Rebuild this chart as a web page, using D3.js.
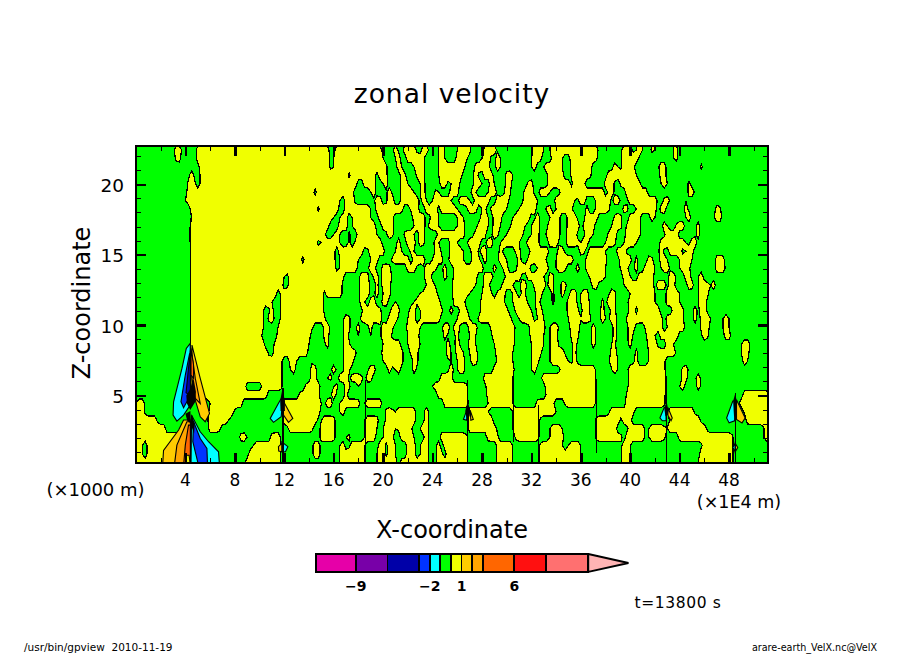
<!DOCTYPE html>
<html><head><meta charset="utf-8">
<script src="https://cdn.jsdelivr.net/npm/d3@7"></script>
<style>
html,body{margin:0;padding:0;background:#fff}
svg{display:block}
text{font-family:"DejaVu Sans",sans-serif;fill:#000}
</style></head><body>
<svg id="c" width="904" height="654"></svg>
<script>
const titleText = "zonal velocity";
const xLabel = "X-coordinate", zLabel = "Z-coordinate";
const xMajorTicks = [4,8,12,16,20,24,28,32,36,40,44,48];
const xMinorTicks = [2,6,10,14,18,22,26,30,34,38,42,46,50];
const zMajorTicks = [5,10,15,20];
const zMinorTicks = [1,2,3,4,6,7,8,9,11,12,13,14,16,17,18,19,21,22];
const levels = [-12.8,-9,-6,-3,-2,-1,0,1,2,3,6,9,13];
const bandColors = ["#e600a8","#7800a8","#0000a8","#0033ff","#00ffff","#00ff00","#f0ff00","#ffcc00","#ffa500","#ff6600","#ff1010","#ff7070"];
const overColor = "#ffb4b4";
const barLabels = [-9,-2,1,6];
const rowTop = 22.44, rowStep = 0.6, cellStep = 0.25;

// x-intervals (x 1E4 m) where u > 0, one list per z row from the top
const positiveRuns = [
[3.1,3.7,4.9,15.6,16.1,19.9,20.8,21.2,21.6,22.7,23.1,23.7,24.5,25.0,26.0,27.1,28.1,29.2,32.0,33.0,33.5,37.4,39.3,40.2,40.5,41.0,41.7,42.0,43.5,43.8],
[3.2,3.6,4.9,15.7,16.0,20.0,21.0,21.4,21.9,23.3,24.5,25.0,25.9,26.8,28.0,28.7,29.1,29.5,32.0,32.8,33.6,34.5,35.1,37.3,39.3,40.7,43.5,43.8],
[5.1,15.7,16.0,20.3,21.1,21.5,22.5,23.3,24.5,26.6,27.4,28.6,29.1,29.5,32.0,32.4,33.0,34.5,35.2,36.9,38.6,39.0,39.3,40.3,42.3,42.9,45.7,45.9],
[4.3,4.7,5.2,17.2,17.4,19.4,19.6,20.3,21.4,21.8,22.7,23.3,24.5,26.4,27.3,27.7,28.1,28.9,29.9,30.5,33.3,34.6,35.2,36.8,38.1,39.5,39.6,40.5,42.4,42.9],
[4.2,4.8,5.2,17.9,18.4,19.4,20.0,20.4,21.4,22.0,23.0,23.4,24.6,25.2,25.5,26.2,27.3,28.0,28.6,29.0,29.9,30.4,31.7,32.1,33.3,35.1,35.3,36.3,37.9,38.7,39.2,40.8,42.5,43.0,44.7,44.9],
[4.1,14.4,14.6,17.6,19.0,19.4,20.3,20.7,21.4,22.5,23.0,23.4,24.2,24.5,25.4,26.1,27.1,27.5,28.5,29.2,29.8,30.3,31.4,32.2,32.6,33.5,34.3,36.0,36.2,37.9,38.2,38.7,39.6,41.4,44.7,45.2],
[4.0,16.5,16.9,17.7,19.3,19.9,20.3,20.9,21.4,22.9,23.1,23.5,24.0,25.5,26.1,27.0,27.4,28.6,29.1,30.2,31.3,32.5,33.9,35.5,35.8,36.4,37.2,38.4,38.6,39.2,39.8,42.2,42.7,43.2,44.5,44.7],
[4.4,14.7,14.9,16.4,16.9,19.0,19.4,21.6,22.2,22.9,23.4,24.4,24.6,26.0,26.8,27.6,28.0,28.3,28.7,30.0,31.0,32.4,33.2,33.6,34.0,35.3,36.4,36.6,37.2,38.3,39.4,39.8,40.5,42.1,42.4,42.9,44.4,44.7,46.9,47.3],
[4.5,16.0,16.5,17.1,17.5,19.0,19.6,20.8,22.4,23.4,23.8,24.5,26.0,26.5,27.9,28.5,28.9,29.6,30.5,31.9,32.3,32.7,33.5,34.3,34.9,35.7,36.3,37.4,38.7,39.3,39.9,40.8,41.6,42.0,44.5,44.9,46.8,47.4],
[4.4,15.6,16.4,17.1,17.5,19.4,19.9,20.8,22.5,23.4,23.7,24.5,26.0,26.6,27.6,28.5,28.9,29.5,30.3,31.5,32.0,32.7,33.3,34.3,34.9,35.9,36.2,37.1,38.5,39.3,39.7,40.8,42.6,43.0,43.7,44.4,45.3,45.6],
[4.3,15.3,16.0,16.5,17.1,17.3,17.9,19.5,20.3,20.8,21.7,22.5,22.9,23.3,24.4,26.6,27.3,28.3,28.8,29.3,30.0,31.3,32.0,32.6,33.2,34.3,34.8,35.7,36.3,37.0,38.2,38.9,39.6,40.8,42.8,43.9,45.3,45.6],
[4.4,14.7,15.0,16.5,17.1,17.3,17.7,19.9,21.1,21.4,21.9,22.6,22.9,23.3,24.1,24.5,25.4,26.0,26.8,27.9,28.3,28.9,29.5,31.0,31.6,32.6,33.4,34.2,34.8,35.8,36.0,36.6,38.0,38.8,39.5,40.5,42.4,44.5,44.8,45.4],
[4.4,16.1,16.4,18.4,18.8,20.1,21.0,21.5,22.2,22.5,24.2,24.7,25.4,26.5,27.1,27.7,27.9,28.4,29.4,29.7,30.7,31.1,31.9,33.4,34.1,34.7,35.9,36.3,36.6,38.0,38.9,39.7,42.3,42.7,43.1,44.2,44.5,45.1],
[4.4,13.4,13.6,16.1,16.5,18.0,19.0,19.6,20.7,22.1,22.4,23.4,24.0,24.8,25.3,26.5,27.2,27.8,28.1,28.4,29.3,30.0,30.9,31.2,31.7,33.2,34.0,35.4,36.4,38.1,39.1,40.1,40.4,40.6,41.4,41.8,42.4,43.0,44.0,45.0,46.9,47.6],
[4.4,16.2,16.5,17.9,18.8,19.4,19.9,20.6,21.9,22.7,23.3,24.3,24.8,25.1,25.7,28.1,28.9,29.2,29.7,30.1,30.8,31.9,32.5,33.4,34.0,34.8,35.6,35.9,36.4,38.0,39.2,39.8,40.3,40.6,41.1,42.0,42.5,43.2,44.0,44.8,46.9,47.7],
[4.4,12.0,12.3,16.8,18.1,18.8,19.2,19.6,19.9,20.7,23.3,23.9,24.9,25.2,25.7,27.6,28.1,28.9,29.9,31.2,31.6,33.0,33.4,33.8,36.7,38.0,39.4,40.0,40.6,41.9,43.1,43.7,44.4,44.9,45.5,45.9],
[4.4,11.9,12.3,13.0,13.2,16.7,18.1,18.9,19.4,19.6,19.9,20.6,22.7,22.8,23.5,24.2,25.6,27.5,28.1,28.6,29.6,30.5,31.1,31.6,32.2,33.2,33.4,33.8,34.4,34.8,36.9,37.4,39.5,40.7,40.8,41.9,42.1,42.9,43.1,43.6,44.6,45.1,45.5,46.3,46.5,46.9],
[4.4,11.4,11.7,15.1,15.3,16.7,18.1,18.9,19.3,19.6,20.0,20.6,22.8,23.0,23.2,24.4,25.6,27.0,28.0,28.8,29.2,29.9,30.5,30.8,31.2,31.5,32.3,32.9,33.6,33.8,34.4,34.7,35.1,35.7,36.0,36.6,38.3,38.8,40.0,42.0,42.9,44.0,45.5,46.3],
[4.4,11.0,11.7,15.2,18.1,18.5,18.9,19.4,19.9,20.4,21.0,21.2,22.5,22.8,23.0,24.6,25.7,26.6,27.9,29.8,30.5,31.7,32.3,32.7,33.7,33.9,34.9,35.7,36.0,36.7,37.7,37.9,38.1,38.8,39.8,42.0,42.9,44.0,45.5,46.2],
[4.4,10.3,10.8,11.1,11.7,15.2,18.3,19.8,20.6,21.3,22.1,22.6,23.0,24.8,25.4,25.7,26.2,26.8,27.9,30.1,30.7,32.0,32.4,32.9,34.9,35.8,36.1,36.7,37.6,37.9,38.4,38.8,39.9,40.4,40.6,42.4,43.4,44.3,45.1,45.4,45.6,46.2],
[4.4,10.3,10.7,11.2,11.7,15.3,16.8,17.3,18.2,19.9,20.4,21.2,22.0,22.6,23.0,24.6,26.0,27.0,27.7,30.4,31.0,32.2,32.5,33.0,35.0,36.0,36.1,36.8,37.6,38.0,38.3,38.9,39.7,42.6,42.9,44.3,45.1,45.4,45.7,46.5,47.5,48.0],
[4.4,10.3,11.5,14.3,15.2,15.7,16.8,17.3,17.8,18.1,18.8,19.1,19.8,20.8,21.9,23.0,24.8,25.4,25.7,26.2,26.9,27.6,28.7,30.7,31.8,33.1,33.5,34.2,35.1,35.9,36.9,37.2,38.6,38.9,39.8,40.4,41.2,42.6,43.0,44.4,45.7,46.4,47.5,48.0],
[4.4,10.2,11.4,14.1,15.2,15.6,16.8,17.2,17.8,18.0,18.8,19.0,19.8,20.7,22.0,22.9,24.9,25.2,25.8,26.1,27.0,27.5,28.8,30.6,31.9,33.0,33.5,34.1,35.2,35.8,36.9,37.2,38.6,38.9,39.8,40.2,41.3,42.0,42.4,43.9,45.8,46.3,47.6,48.1],
[4.4,10.4,11.2,14.0,15.3,15.6,16.8,17.3,20.0,21.4,22.0,23.0,25.1,25.4,25.8,26.2,26.9,27.5,29.0,30.6,32.0,33.0,33.5,34.2,35.3,35.7,36.9,37.2,38.5,38.8,39.8,40.1,41.4,42.2,42.9,43.5,49.0,49.7],
[4.4,10.7,11.1,13.9,16.8,17.8,19.9,21.6,22.2,22.8,25.1,25.5,25.9,26.5,27.0,27.6,29.1,30.5,32.0,32.8,33.5,34.7,35.3,35.6,38.4,38.9,40.4,40.6,41.5,43.7,49.0,49.6],
[4.4,11.8,12.4,13.0,14.0,14.2,16.8,17.6,20.0,21.0,21.2,21.6,22.4,22.8,25.3,25.5,26.0,26.6,27.1,27.6,29.2,30.5,32.0,32.6,33.5,35.0,35.3,35.7,38.3,39.0,40.3,40.6,41.5,42.8,49.1,49.5],
[4.4,11.8,12.5,12.9,14.1,14.6,15.8,16.2,16.8,17.3,18.8,19.4,20.4,20.7,21.0,21.4,22.4,22.7,25.3,25.7,26.0,26.6,28.9,30.6,32.0,32.4,34.3,37.2,38.5,39.0,39.8,42.8,44.2,44.7],
[4.4,11.8,14.1,14.6,15.5,15.8,16.4,17.2,17.4,18.3,18.6,19.1,24.6,25.6,28.1,30.5,32.8,37.2,39.9,42.9,44.2,44.6,45.3,45.7],
[4.4,8.9,10.2,11.8,13.7,14.9,16.0,16.3,16.9,17.3,18.0,18.2,24.0,26.8,28.3,30.5,33.1,37.2,39.8,42.9,44.0,44.4,45.4,45.7],
[4.4,10.6,13.2,14.8,15.8,16.2,16.9,17.1,24.4,26.8,28.4,30.5,33.2,37.2,39.7,42.8,49.1,51.3],
[0,0.7,6.0,8.6,11.8,15.0,15.3,15.9,16.5,18.1,18.5,19.9,24.9,26.9,28.5,30.5,32.4,33.8,34.7,37.2,39.6,42.8,48.8,51.3],
[0,0.7,5.9,7.95,11.8,14.9,16.5,16.9,20.2,20.8,21.0,22.6,23.3,23.7,26.9,28.5,30.5,34.0,38.3,40.3,43.0,45.2,49.2,51.3],
[0,1.7,5.8,7.5,11.9,14.7,15.0,16.1,18.5,19.6,20.2,20.8,21.0,22.6,23.3,23.7,26.9,28.9,30.5,32.7,37.2,39.2,39.4,40.1,43.2,45.7,49.4,51.3],
[0,2.4,5.9,6.8,12.3,14.3,14.9,16.1,18.5,19.5,20.0,21.0,21.2,22.3,23.0,23.7,26.9,29.2,30.5,32.6,33.5,34.5,37.2,38.9,39.8,41.2,41.5,42.8,43.0,46.2,50.8,51.3],
[0,4.4,8.4,9.0,10.9,11.7,14.9,16.1,17.0,17.3,18.5,19.4,20.0,20.8,21.4,22.5,23.3,23.7,24.6,26.8,28.4,29.3,30.7,32.6,33.5,34.6,37.2,39.3,39.6,41.2,41.5,42.8,43.9,48.3,50.8,51.3],
[0,0.5,0.9,4.4,9.5,11.7,14.3,14.9,16.5,16.9,17.3,18.5,19.6,20.2,20.4,21.0,21.9,22.6,23.0,23.7,24.3,24.6,24.9,26.8,29.2,30.5,32.7,34.5,35.0,36.0,39.3,40.0,45.8,48.3],
[0,0.5,0.9,4.4,9.1,11.7,14.3,14.9,16.5,18.5,19.5,20.2,20.4,21.0,21.9,22.6,23.0,23.7,24.3,24.8,25.1,26.8,29.2,30.5,32.7,36.0,39.3,40.0,45.6,48.3],
[0,4.4,8.8,11.7,16.5,18.5,19.5,21.1,21.4,23.7,24.3,26.8,29.2,30.5,32.7,36.0,39.3,40.0,45.5,48.3]
];

// closed regions of stronger flow over the ridges: [u value, [[x,z],...]]
const plumeLayers = [
[1.5,[[3.85,3.25],[3.45,2.54],[2.23,1.1],[2.15,0],[4.4,0],[4.45,3.25]]],
[2.5,[[4.12,3.13],[3.31,1.47],[3.1,0],[4.4,0],[4.4,3.13]]],
[3.5,[[4.25,2.89],[3.99,1.47],[3.85,0],[4.4,0],[4.4,2.89]]],
[0.5,[[3.99,0],[4.1,0.75],[4.3,0.75],[4.4,0]]],
[-1.5,[[4.5,3.6],[5.2,2.42],[5.87,1.71],[6.68,1.0],[6.76,0],[4.45,0]]],
[-2.5,[[4.66,3.13],[5.2,1.94],[5.74,1.23],[5.79,0],[5.07,0],[4.6,1.71]]],
[-1.5,[[4.39,8.7],[4.07,8.34],[3.72,6.92],[3.04,4.55],[3.0,3.6],[3.31,3.18],[3.85,3.6],[4.39,4.31]]],
[-2.5,[[4.34,7.99],[3.99,6.45],[3.64,4.55],[3.85,4.12],[4.39,5.0]]],
[-4.5,[[4.4,8.2],[4.2,6.5],[4.05,5.2],[4.4,5.0]]],
[1.5,[[4.53,8.58],[5.2,6.21],[5.95,3.72],[5.6,3.13],[5.2,3.48],[4.8,4.67],[4.53,5.74]]],
[2.5,[[4.53,7.87],[4.8,6.21],[5.2,4.43],[4.8,4.79],[4.53,6.21]]],
[3.5,[[4.45,8.34],[4.66,7.16],[4.66,6.21],[4.45,6.45]]],
[-1.5,[[11.53,4.44],[10.86,3.37],[11.13,3.09],[11.75,3.49],[11.9,5.0]]],
[1.5,[[12.02,4.44],[12.69,3.37],[12.34,3.09],[11.94,3.61],[11.9,5.0]]],
[-1.5,[[11.8,1.7],[12.29,1.36],[12.1,1.0],[11.8,1.0]]],
[1.5,[[11.8,1.6],[11.53,1.36],[11.55,1.05],[11.8,1.0]]],
[-1.5,[[26.5,3.3],[26.75,3.9],[26.77,3.24]]],
[1.5,[[27.04,3.95],[27.3,3.3],[27.1,3.24]]],
[-1.5,[[42.4,3.4],[42.75,4.14],[42.9,4.14],[42.9,3.2],[42.6,3.2]]],
[1.5,[[43.05,4.14],[43.4,3.4],[43.3,3.2],[43.05,3.6]]],
[-1.5,[[47.8,3.4],[48.3,4.6],[48.45,4.6],[48.45,3.2],[48.0,3.05]]],
[1.5,[[48.6,4.7],[49.3,3.4],[49.05,3.05],[48.6,3.3]]],
[-1.5,[[48.3,1.3],[48.5,1.6],[48.5,1.0]]],
[1.5,[[48.5,1.6],[48.7,1.3],[48.5,1.0]]]
];
// places where the contour lines merge to solid black
const denseCores = [
[[4.34,5.38],[4.07,5.0],[4.12,4.43],[4.39,3.96],[4.8,4.55],[4.85,5.26],[4.66,6.21]],
[[4.5,3.7],[4.75,3.0],[4.7,2.3],[4.45,2.9]],
[[4.0,3.7],[4.4,3.9],[4.45,3.0],[4.15,3.2]],
[[11.85,5.5],[11.67,4.6],[11.7,3.9],[12.05,3.9],[12.05,4.6]],
[[26.85,4.6],[26.65,3.9],[26.75,3.5],[27.0,3.5],[27.05,3.9]],
[[42.95,4.55],[42.75,4.1],[42.85,3.5],[43.1,3.9]],
[[48.5,5.14],[48.33,4.6],[48.4,3.5],[48.6,3.5],[48.62,4.6]]
];
// vertical jumps of the field above ridges: [x, zLow, zHigh]
const seams = [[4.4,8.7,17.6],[11.9,0.2,5.5],[18.55,0.2,6.1],[26.8,0.2,6.1],[30.55,1.7,6.4],[32.6,0.2,4.3],[37.3,0.9,6.2],[42.95,0.2,6.4],[48.5,0.2,5.2]];

const svg = d3.select("#c");
const x = d3.scaleLinear().domain([0,51.15]).range([136,768]);
const z = d3.scaleLinear().domain([0.2,22.72]).range([463,146]);
const bar = d3.scaleLinear().domain([-12.8,13]).range([315.7,588.3]);
const bandColor = d3.scaleThreshold().domain(levels.slice(1)).range(bandColors);

// grid the runs
const nCols = Math.round(51.5/cellStep)+1, nRows = positiveRuns.length;
const grid = new Float64Array(nCols*nRows);
positiveRuns.forEach((runs,r)=>{
  for(let i=0;i<nCols;i++){
    const a=i*cellStep-cellStep/2,b=a+cellStep;let s=0;
    for(let k=0;k<runs.length;k+=2) s+=Math.max(0,Math.min(b,runs[k+1])-Math.max(a,runs[k]));
    grid[r*nCols+i]=Math.min(1,s/cellStep);
  }
});
const contour = d3.contours().size([nCols,nRows]).thresholds([0.5]).smooth(true)(grid)[0];
const gridPath = d3.geoPath(d3.geoTransform({point(gx,gy){
  this.stream.point(x((gx-0.5)*cellStep), z(rowTop-(gy-0.5)*rowStep));
}}));
const clip = svg.append("clipPath").attr("id","plot").append("rect")
  .attr("x",x(0)).attr("y",z(22.72)).attr("width",x(51.15)-x(0)).attr("height",z(0.2)-z(22.72));
const plot = svg.append("g").attr("clip-path","url(#plot)");
plot.append("rect").attr("x",x(0)).attr("y",z(22.72)).attr("width",x(51.15)-x(0)).attr("height",z(0.2)-z(22.72)).attr("fill",bandColor(-0.5));
plot.append("path").attr("d",gridPath(contour)).attr("fill",bandColor(0.5)).attr("fill-rule","evenodd")
  .attr("stroke","#000").attr("stroke-width",1.2).attr("shape-rendering","crispEdges");
const line = d3.line().x(d=>x(d[0])).y(d=>z(d[1])).curve(d3.curveLinearClosed);
plot.selectAll("path.p").data(plumeLayers).join("path").attr("class","p")
  .attr("d",d=>line(d[1])).attr("fill",d=>bandColor(d[0])).attr("stroke","#000").attr("stroke-width",1.1);
plot.selectAll("path.k").data(denseCores).join("path").attr("class","k").attr("d",line).attr("fill","#000");
plot.selectAll("line.s").data(seams).join("line").attr("class","s")
  .attr("x1",d=>x(d[0])).attr("x2",d=>x(d[0])).attr("y1",d=>z(d[1])).attr("y2",d=>z(d[2]))
  .attr("stroke","#000").attr("stroke-width",1.2).attr("shape-rendering","crispEdges");

// axes
function axes(gen,trans,vals,len,w){
  const g=svg.append("g").attr("transform",trans).call(gen.tickValues(vals).tickSizeInner(-len).tickSizeOuter(0).tickFormat(""));
  g.select(".domain").remove();
  g.selectAll(".tick line").attr("stroke","#000").attr("stroke-width",w).attr("shape-rendering","crispEdges");
}
const B=`translate(0,463)`,T=`translate(0,146)`,L=`translate(136,0)`,R=`translate(768,0)`;
axes(d3.axisBottom(x),B,xMajorTicks,10,2.5);axes(d3.axisBottom(x),B,xMinorTicks,5,1);
axes(d3.axisTop(x),T,xMajorTicks,10,2.5);axes(d3.axisTop(x),T,xMinorTicks,5,1);
axes(d3.axisLeft(z),L,zMajorTicks,10,2.5);axes(d3.axisLeft(z),L,zMinorTicks,5,1);
axes(d3.axisRight(z),R,zMajorTicks,10,2.5);axes(d3.axisRight(z),R,zMinorTicks,5,1);
svg.append("rect").attr("x",x(0)).attr("y",z(22.72)).attr("width",x(51.15)-x(0)).attr("height",z(0.2)-z(22.72))
  .attr("fill","none").attr("stroke","#000").attr("stroke-width",2.2).attr("shape-rendering","crispEdges");

const txt=(s,px,py,fs,anchor="middle")=>svg.append("text").attr("x",px).attr("y",py).attr("font-size",fs).attr("text-anchor",anchor).text(s);
svg.selectAll("text.xt").data(xMajorTicks).join("text").attr("class","xt").attr("x",d=>x(d)).attr("y",486).attr("font-size",17).attr("text-anchor","middle").text(d=>d);
svg.selectAll("text.zt").data(zMajorTicks).join("text").attr("class","zt").attr("x",124).attr("y",d=>z(d)+7.5).attr("font-size",18.5).attr("text-anchor","end").text(d=>d);

txt(titleText,452,103,26.5).attr("letter-spacing",1);
txt(xLabel,452,538,24);
txt(zLabel,0,0,24).attr("transform","translate(90,303) rotate(-90)");
txt("(×1000 m)",95.5,496,18);
txt("(×1E4 m)",739,508,17.5);
txt("t=13800 s",678,608,15.5).attr("letter-spacing",0.6);
txt("/usr/bin/gpview  2010-11-19",24,651,10.5,"start").style("white-space","pre");
txt("arare-earth_VelX.nc@VelX",877,651,9.6,"end");

// colour bar
const bands=d3.pairs(levels);
const barG=svg.append("g");
barG.selectAll("rect").data(bands).join("rect")
  .attr("x",d=>bar(d[0])).attr("width",d=>bar(d[1])-bar(d[0])).attr("y",554).attr("height",18)
  .attr("fill",d=>bandColor((d[0]+d[1])/2)).attr("stroke","#000").attr("stroke-width",1.8).attr("shape-rendering","crispEdges");
const tip=[[13,554],[16.8,563],[13,572]];
barG.append("path").attr("d",d3.line().x(d=>bar(d[0])).y(d=>d[1]).curve(d3.curveLinearClosed)(tip))
  .attr("fill",overColor).attr("stroke","#000").attr("stroke-width",1.8);
svg.selectAll("text.bl").data(barLabels).join("text").attr("class","bl").attr("x",d=>bar(d)).attr("y",591)
  .attr("font-size",14).attr("font-weight","bold").attr("text-anchor","middle").text(d=>(d<0?"−":"")+Math.abs(d));
</script>
</body></html>
